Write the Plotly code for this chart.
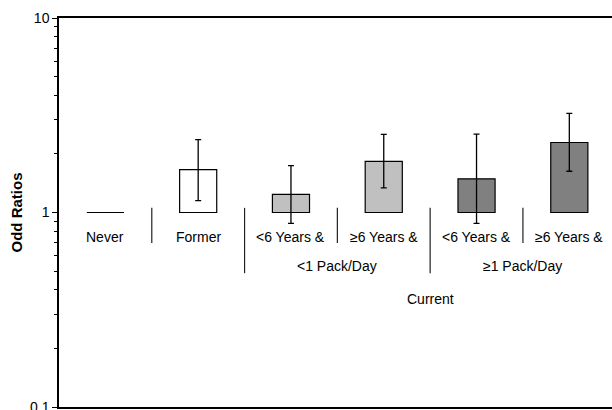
import plotly.graph_objects as go

categories = ["Never", "Former", "<6 Years & (<1)", "≥6 Years & (<1)", "<6 Years & (≥1)", "≥6 Years & (≥1)"]
row1_labels = ["Never", "Former", "<6 Years &", "≥6 Years &", "<6 Years &", "≥6 Years &"]
odds_ratios = [1.0, 1.66, 1.24, 1.83, 1.49, 2.29]
ci_upper = [1.0, 2.37, 1.74, 2.52, 2.53, 3.23]
ci_lower = [1.0, 1.15, 0.88, 1.34, 0.88, 1.63]
bar_colors = ["#ffffff", "#ffffff", "#c0c0c0", "#c0c0c0", "#808080", "#808080"]
group_labels = ["<1 Pack/Day", "≥1 Pack/Day"]
group_members = [[2, 3], [4, 5]]
super_label = "Current"
y_title = "Odd Ratios"
y_tickvals = [0.1, 1, 10]
y_ticktext = ["0.1", "1", "10"]
y_minor = [0.2, 0.3, 0.4, 0.5, 0.6, 0.7, 0.8, 0.9, 2, 3, 4, 5, 6, 7, 8, 9]

FONT = "Liberation Sans, Arial, sans-serif"

fig = go.Figure()

# reference line at OR = 1
fig.add_shape(type="line", xref="paper", yref="y", x0=0, x1=1, y0=0, y1=0,
              line=dict(color="#808080", width=1.5), layer="below")

fig.add_trace(go.Bar(
    x=categories,
    y=[v - 1 for v in odds_ratios],
    base=[1] * len(odds_ratios),
    width=0.4,
    marker=dict(color=bar_colors, line=dict(color="black", width=1.2)),
    showlegend=False,
    hoverinfo="skip",
))

fig.add_trace(go.Scatter(
    x=categories[1:],
    y=odds_ratios[1:],
    mode="markers",
    marker=dict(size=1, color="rgba(0,0,0,0)"),
    error_y=dict(type="data", symmetric=False,
                 array=[u - v for u, v in zip(ci_upper[1:], odds_ratios[1:])],
                 arrayminus=[v - l for v, l in zip(odds_ratios[1:], ci_lower[1:])],
                 color="black", thickness=1.3, width=3),
    showlegend=False,
    hoverinfo="skip",
))

# Never: reference bar drawn as flat line at 1
fig.add_trace(go.Scatter(
    x=[-0.2, 0.2], y=[odds_ratios[0], odds_ratios[0]], mode="lines",
    line=dict(color="black", width=1.2), showlegend=False, hoverinfo="skip",
))

# paper y for label rows
row1_y, row2_y, row3_y = 0.437, 0.362, 0.278
short_top, short_bot, long_bot = 0.512, 0.4216, 0.344

def label(x, y, text):
    fig.add_annotation(x=x, y=y, xref="x", yref="paper", text=text,
                       xanchor="center", yanchor="middle",
                       showarrow=False, font=dict(size=14, color="black", family=FONT))

for i, lab in enumerate(row1_labels):
    label(i, row1_y, lab)

for lab, mem in zip(group_labels, group_members):
    label(sum(mem) / len(mem), row2_y, lab)

label((group_members[0][-1] + group_members[1][0]) / 2, row3_y, super_label)

# y-axis title
fig.add_annotation(x=-0.076, y=0.5, xref="paper", yref="paper", text="<b>" + y_title + "</b>",
                   textangle=-90, xanchor="center", yanchor="middle", showarrow=False,
                   font=dict(size=15, color="black", family=FONT))

# dividers between categories
long_dividers = {1.5, 3.5}
for b in [0.5, 1.5, 2.5, 3.5, 4.5]:
    fig.add_shape(type="line", xref="x", yref="paper", x0=b, x1=b,
                  y0=short_top, y1=long_bot if b in long_dividers else short_bot,
                  line=dict(color="#202020", width=1.2))

fig.update_layout(
    width=612, height=410,
    margin=dict(l=59, r=0, t=18, b=3, autoexpand=False),
    plot_bgcolor="white", paper_bgcolor="white",
    font=dict(family=FONT, size=14, color="black"),
    bargap=0.6,
    xaxis=dict(type="category", range=[-0.5, 5.46], showline=True, mirror=True,
               linecolor="black", linewidth=1.5, showticklabels=False, ticks="",
               showgrid=False, zeroline=False),
    yaxis=dict(type="log", range=[-1, 1], showline=True, linecolor="black", linewidth=1.5,
               tickvals=y_tickvals, ticktext=y_ticktext, ticks="outside", ticklen=5,
               tickcolor="black", tickwidth=1.2, showgrid=False, zeroline=False,
               tickfont=dict(size=14, family=FONT), ticklabeloverflow="allow",
               minor=dict(tickvals=y_minor, ticks="outside", ticklen=3,
                          tickcolor="black", tickwidth=1, showgrid=False)),
)

fig.write_html("out.html", config={"displayModeBar": False},
               post_script="document.body.style.margin='0';document.body.style.overflow='hidden';")
